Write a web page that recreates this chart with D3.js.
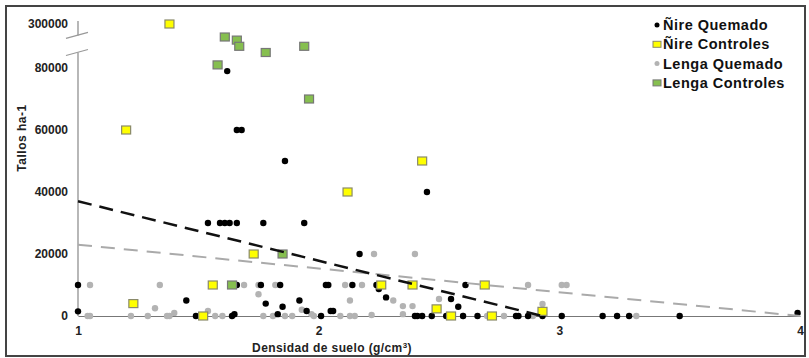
<!DOCTYPE html>
<html><head><meta charset="utf-8">
<script src="https://cdn.jsdelivr.net/npm/d3@7"></script>
<style>
html,body{margin:0;padding:0;background:#fff;}
svg{display:block;font-family:"Liberation Sans",Arial,sans-serif;}
</style></head>
<body><svg id="c" width="809" height="358"></svg>
<script>
// ---- data ----
const nireQuemado = [
 [1.00,10000],[1.00,1500],[1.45,5000],[1.49,0],[1.64,0],[1.65,600],[1.66,10000],[1.76,10000],
 [1.84,10000],[2.03,10000],[2.04,10000],[2.14,10000],[2.24,10000],[2.25,8700],[1.78,4000],
 [1.85,3000],[1.92,5000],[2.28,6000],[1.83,600],[1.95,1600],[2.01,0],[2.05,1600],[2.06,1600],
 [2.17,20000],[2.61,10000],[2.55,5500],[2.58,3000],[2.40,0],[2.41,0],[2.43,0],[2.47,0],[2.53,0],
 [2.60,0],[2.66,0],[2.82,0],[2.83,0],[2.87,0],[2.93,0],[3.01,0],[3.18,0],[3.24,0],[3.29,0],
 [3.50,0],[3.99,1000],[1.62,79000],[1.66,60000],[1.68,60000],[1.86,50000],[2.45,40000],
 [1.54,30000],[1.59,30000],[1.61,30000],[1.63,30000],[1.66,30000],[1.77,30000],[1.94,30000]
];
const nireControles = [
 [1.38,300000],[1.20,60000],[2.12,40000],[2.43,50000],[1.73,20000],[1.56,10000],[2.26,10000],
 [2.39,10000],[2.69,10000],[1.23,4000],[1.52,0],[2.49,2300],[2.55,0],[2.72,0],[2.93,1500]
];
const lengaQuemado = [
 [1.05,10000],[1.34,10000],[1.04,0],[1.05,0],[1.22,0],[1.29,0],[1.37,0],[1.38,0],[1.40,1000],
 [1.32,2500],[1.54,1600],[1.57,0],[1.60,0],[1.69,10000],[1.75,10000],[1.82,10000],[2.11,10000],
 [2.18,10000],[1.75,7000],[2.13,5000],[2.31,5000],[1.77,0],[1.81,0],[1.86,0],[1.89,0],[1.93,2000],
 [1.97,600],[1.98,0],[2.09,0],[2.13,0],[2.15,0],[2.22,300],[2.23,20000],[2.40,20000],[2.35,3200],
 [2.39,3200],[2.50,5500],[2.35,600],[2.60,0],[2.70,0],[2.71,0],[2.77,0],[2.89,0],[2.93,3900],
 [2.87,10000],[3.01,10000],[3.03,10000],[3.32,0]
];
const lengaControles = [
 [1.61,90000],[1.66,89000],[1.67,87000],[1.78,85000],[1.94,87000],[1.58,81000],[1.96,70000],
 [1.64,10000],[1.85,20000]
];
const trendNire = [[1,37000],[2.93,0]];
const trendLenga = [[1,23000],[4,0]];
const xTicks = [1,2,3,4];
const yTicks = [0,20000,40000,60000,80000,300000];
const legendLabels = ["Ñire Quemado","Ñire Controles","Lenga Quemado","Lenga Controles"];

// ---- chart ----
const svg = d3.select("#c");
svg.append("rect").attr("x",6).attr("y",6).attr("width",799).attr("height",350)
  .attr("fill","#fff").attr("stroke","#444").attr("stroke-width",2);

const x = d3.scaleLinear().domain([1,4]).range([78,800]);
const y = d3.scaleLinear().domain([0,92000,300000]).range([316,30.8,24]);

// x axis
const gx = svg.append("g").attr("transform",`translate(0,${y(0)})`)
  .call(d3.axisBottom(x).tickValues(xTicks).tickSize(0).tickPadding(10).tickFormat(d3.format("d")));
gx.select(".domain").attr("stroke","#777").attr("stroke-width",1.2);
gx.selectAll("text").attr("font-size",12).attr("font-weight","bold").attr("fill","#222")
  .attr("font-family","Liberation Sans, Arial, sans-serif");

// y axis
const gy = svg.append("g").attr("transform",`translate(${x(1)},0)`)
  .call(d3.axisLeft(y).tickValues(yTicks).tickSize(0).tickPadding(10).tickFormat(d3.format("d")));
gy.select(".domain").remove();
gy.selectAll("text").attr("font-size",12).attr("font-weight","bold").attr("fill","#222")
  .attr("font-family","Liberation Sans, Arial, sans-serif");
const lowB = y(85000), upB = y(90500);
const ax = x(1);
svg.append("line").attr("x1",ax).attr("x2",ax).attr("y1",lowB).attr("y2",y(0)).attr("stroke","#888").attr("stroke-width",1.2);
svg.append("line").attr("x1",ax).attr("x2",ax).attr("y1",y(300000)-3).attr("y2",upB).attr("stroke","#888").attr("stroke-width",1.2);
[lowB,upB].forEach(b=>{
  svg.append("line").attr("x1",ax-12).attr("x2",ax+10).attr("y1",b+3).attr("y2",b-3)
    .attr("stroke","#999").attr("stroke-width",1.2);
});

// titles
svg.append("text").attr("x",332).attr("y",352).attr("text-anchor","middle")
  .attr("font-size",12).attr("font-weight","bold").attr("fill","#222").attr("letter-spacing",0.4)
  .html('Densidad de suelo (g/cm<tspan dy="-4" font-size="8">3</tspan><tspan dy="4">)</tspan>');
svg.append("text").attr("transform","translate(26,138) rotate(-90)").attr("text-anchor","middle")
  .attr("font-size",12).attr("font-weight","bold").attr("fill","#222").attr("letter-spacing",0.5)
  .text("Tallos ha-1");

// points
const pts = svg.append("g");
pts.selectAll(".lq").data(lengaQuemado).join("circle").attr("class","lq")
  .attr("cx",d=>x(d[0])).attr("cy",d=>y(d[1])).attr("r",3.2).attr("fill","#b3b3b3");
pts.selectAll(".nq").data(nireQuemado).join("circle").attr("class","nq")
  .attr("cx",d=>x(d[0])).attr("cy",d=>y(d[1])).attr("r",3.2).attr("fill","#000");
pts.selectAll(".nc").data(nireControles).join("rect").attr("class","nc")
  .attr("x",d=>x(d[0])-4.5).attr("y",d=>y(d[1])-4).attr("width",9).attr("height",8)
  .attr("fill","#ffff00").attr("stroke","#8a8a6a").attr("stroke-width",1.2);
pts.selectAll(".lc").data(lengaControles).join("rect").attr("class","lc")
  .attr("x",d=>x(d[0])-4.5).attr("y",d=>y(d[1])-4).attr("width",9).attr("height",8)
  .attr("fill","#86bf4f").attr("stroke","#777").attr("stroke-width",1.2);

// trend lines
const line = d3.line().x(d=>x(d[0])).y(d=>y(d[1]));
svg.append("path").attr("d",line(trendLenga)).attr("fill","none")
  .attr("stroke","#aaa").attr("stroke-width",2).attr("stroke-dasharray","14,9");
svg.append("path").attr("d",line(trendNire)).attr("fill","none")
  .attr("stroke","#111").attr("stroke-width",2.5).attr("stroke-dasharray","14,8");

// legend
const lg = svg.append("g").attr("transform","translate(657,25)");
legendLabels.forEach((t,i)=>{
  const g = lg.append("g").attr("transform",`translate(0,${i*19.3})`);
  if(i===0) g.append("circle").attr("r",2.5).attr("fill","#000");
  if(i===2) g.append("circle").attr("r",2.5).attr("fill","#b3b3b3");
  if(i===1) g.append("rect").attr("x",-4).attr("y",-3).attr("width",8).attr("height",6)
     .attr("fill","#ffff00").attr("stroke","#8a8a6a");
  if(i===3) g.append("rect").attr("x",-4).attr("y",-3).attr("width",8).attr("height",6)
     .attr("fill","#86bf4f").attr("stroke","#777");
  g.append("text").attr("x",6).attr("y",5).attr("font-size",14.5).attr("font-weight","bold")
    .attr("letter-spacing",0.5).attr("fill","#111").text(t);
});
</script></body></html>
